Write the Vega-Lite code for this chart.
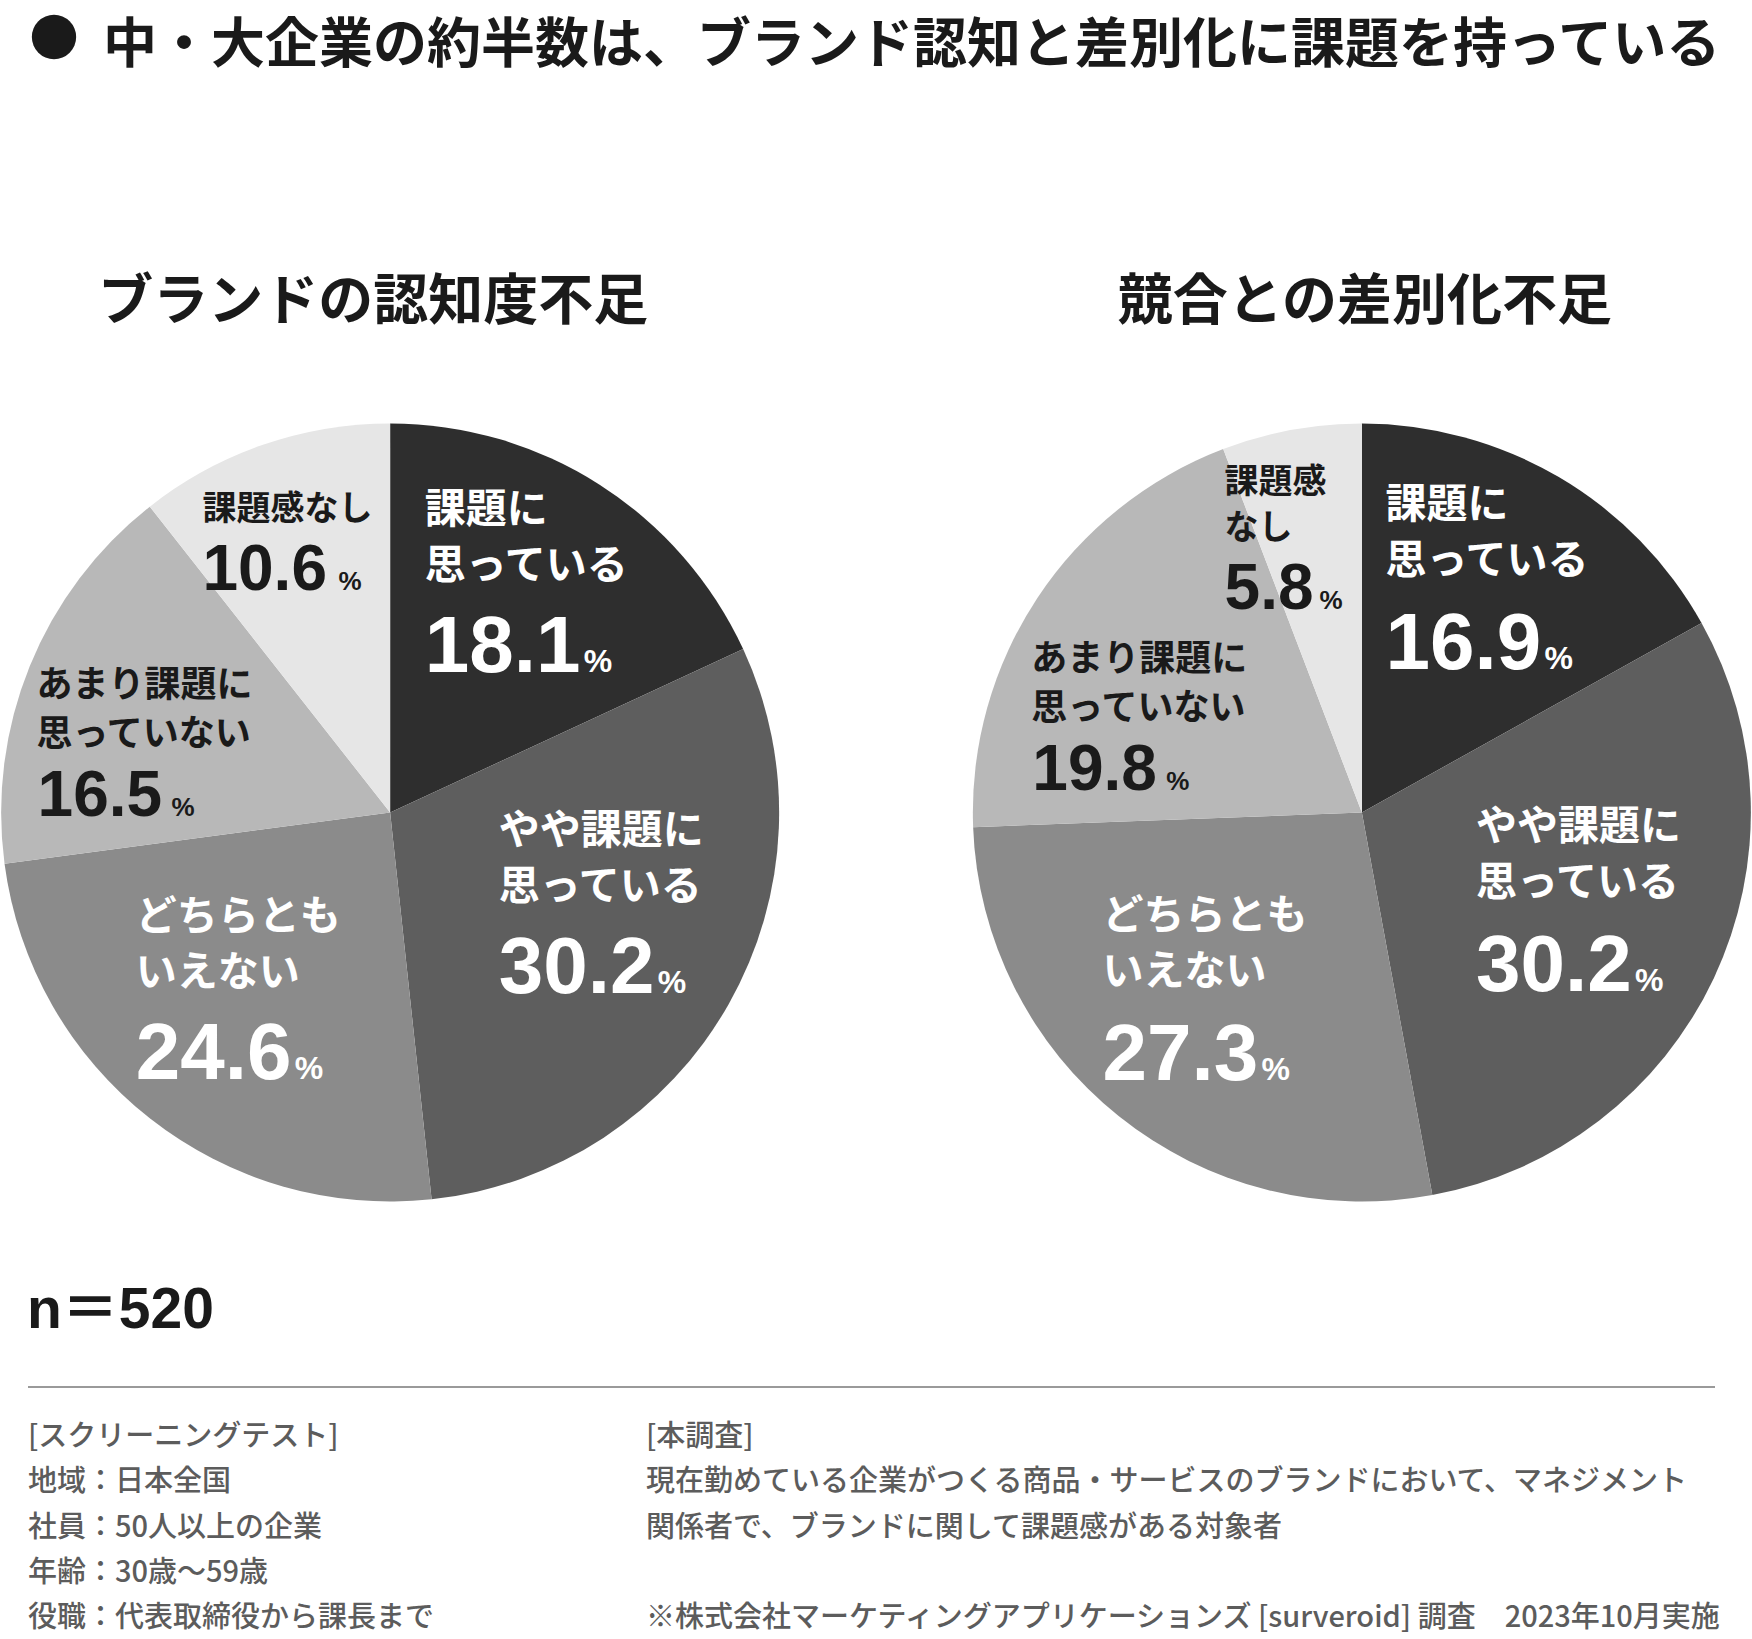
{
  "$schema": "https://vega.github.io/schema/vega-lite/v6.json",
  "autosize": "none",
  "width": 1752,
  "height": 1625,
  "padding": {"left": 0, "top": 0, "right": 0, "bottom": 14},
  "background": "white",
  "config": {"view": {"stroke": null}, "font": "Noto Sans CJK JP"},
  "datasets": {
    "pie": [
      {"chart": "ブランドの認知度不足", "k": 1, "cat": "課題に思っている", "l1": "課題に", "l2": "思っている", "v": 18.1},
      {"chart": "ブランドの認知度不足", "k": 2, "cat": "やや課題に思っている", "l1": "やや課題に", "l2": "思っている", "v": 30.2},
      {"chart": "ブランドの認知度不足", "k": 3, "cat": "どちらともいえない", "l1": "どちらとも", "l2": "いえない", "v": 24.6},
      {"chart": "ブランドの認知度不足", "k": 4, "cat": "あまり課題に思っていない", "l1": "あまり課題に", "l2": "思っていない", "v": 16.5},
      {"chart": "ブランドの認知度不足", "k": 5, "cat": "課題感なし", "l1": "", "l2": "課題感なし", "v": 10.6},
      {"chart": "競合との差別化不足", "k": 1, "cat": "課題に思っている", "l1": "課題に", "l2": "思っている", "v": 16.9},
      {"chart": "競合との差別化不足", "k": 2, "cat": "やや課題に思っている", "l1": "やや課題に", "l2": "思っている", "v": 30.2},
      {"chart": "競合との差別化不足", "k": 3, "cat": "どちらともいえない", "l1": "どちらとも", "l2": "いえない", "v": 27.3},
      {"chart": "競合との差別化不足", "k": 4, "cat": "あまり課題に思っていない", "l1": "あまり課題に", "l2": "思っていない", "v": 19.8},
      {"chart": "競合との差別化不足", "k": 5, "cat": "課題感なし", "l1": "課題感", "l2": "なし", "v": 5.8}
    ],
    "notes": [
      {"part": "bullet", "col": "B", "line": "T", "t": "●"},
      {"part": "title", "col": "T", "line": "T", "t": "中・大企業の約半数は、ブランド認知と差別化に課題を持っている"},
      {"part": "n", "col": "L", "line": "N", "t": "n＝520"},
      {"part": "rule", "col": "L", "col2": "E", "line": "R", "t": ""},
      {"part": "note", "col": "L", "line": "0", "t": "[スクリーニングテスト]"},
      {"part": "note", "col": "L", "line": "1", "t": "地域：日本全国"},
      {"part": "note", "col": "L", "line": "2", "t": "社員：50人以上の企業"},
      {"part": "note", "col": "L", "line": "3", "t": "年齢：30歳〜59歳"},
      {"part": "note", "col": "L", "line": "4", "t": "役職：代表取締役から課長まで"},
      {"part": "note", "col": "R", "line": "0", "t": "[本調査]"},
      {"part": "note", "col": "R", "line": "1", "t": "現在勤めている企業がつくる商品・サービスのブランドにおいて、マネジメント"},
      {"part": "note", "col": "R", "line": "2", "t": "関係者で、ブランドに関して課題感がある対象者"},
      {"part": "note", "col": "R", "line": "4", "t": "※株式会社マーケティングアプリケーションズ [surveroid] 調査　2023年10月実施"}
    ]
  },
  "layer": [
    {
      "data": {"name": "pie"},
      "layer": [
        {
          "transform": [{"filter": "datum.chart === 'ブランドの認知度不足'"}],
          "layer": [
            {"mark": {"type": "arc", "outerRadius": 389, "stroke": null},
             "encoding": {
               "x": {"field": "chart", "type": "nominal", "axis": null, "scale": {"type": "point", "domain": ["ブランドの認知度不足", "競合との差別化不足"], "padding": 0.4015}},
               "theta": {"field": "v", "type": "quantitative", "stack": true},
               "order": {"field": "k", "type": "quantitative"},
               "color": {"field": "cat", "type": "nominal", "legend": null, "scale": {"domain": ["課題に思っている", "やや課題に思っている", "どちらともいえない", "あまり課題に思っていない", "課題感なし"], "range": ["#2e2e2e", "#5e5e5e", "#8b8b8b", "#b8b8b8", "#e6e6e6"]}}
             }},
            {"transform": [{"filter": "datum.k === 1"}],
             "mark": {"type": "text", "align": "center", "baseline": "alphabetic", "dx": -17, "dy": -494, "fontSize": 55, "fontWeight": "bold", "color": "#1a1a1a", "font": "Noto Sans CJK JP"},
             "encoding": {"x": {"field": "chart", "type": "nominal", "axis": null}, "text": {"field": "chart", "type": "nominal"}}},
            {"mark": {"type": "text", "radius": 250, "align": "left", "baseline": "alphabetic", "dx": -100, "dy": -79, "fontSize": 41, "fontWeight": "bold", "color": "#ffffff", "font": "Noto Sans CJK JP"},
             "encoding": {"x": {"field": "chart", "type": "nominal", "axis": null}, "theta": {"field": "v", "type": "quantitative", "stack": true}, "order": {"field": "k", "type": "quantitative"}, "detail": {"field": "k", "type": "nominal"},
               "text": {"condition": {"test": "datum.k === 1 || datum.k === 3", "field": "l1", "type": "nominal"}, "value": ""}}},
            {"mark": {"type": "text", "radius": 250, "align": "left", "baseline": "alphabetic", "dx": -100, "dy": -23, "fontSize": 41, "fontWeight": "bold", "color": "#ffffff", "font": "Noto Sans CJK JP"},
             "encoding": {"x": {"field": "chart", "type": "nominal", "axis": null}, "theta": {"field": "v", "type": "quantitative", "stack": true}, "order": {"field": "k", "type": "quantitative"}, "detail": {"field": "k", "type": "nominal"},
               "text": {"condition": {"test": "datum.k === 1 || datum.k === 3", "field": "l2", "type": "nominal"}, "value": ""}}},
            {"mark": {"type": "text", "radius": 250, "align": "left", "baseline": "alphabetic", "dx": -100, "dy": 70, "fontSize": 80, "fontWeight": "bold", "color": "#ffffff", "font": "Liberation Sans"},
             "encoding": {"x": {"field": "chart", "type": "nominal", "axis": null}, "theta": {"field": "v", "type": "quantitative", "stack": true}, "order": {"field": "k", "type": "quantitative"}, "detail": {"field": "k", "type": "nominal"},
               "text": {"condition": {"test": "datum.k === 1 || datum.k === 3", "field": "v", "type": "quantitative", "format": ".1f"}, "value": ""}}},
            {"mark": {"type": "text", "radius": 250, "align": "left", "baseline": "alphabetic", "dx": 59, "dy": 70, "fontSize": 32, "fontWeight": "bold", "color": "#ffffff", "font": "Liberation Sans"},
             "encoding": {"x": {"field": "chart", "type": "nominal", "axis": null}, "theta": {"field": "v", "type": "quantitative", "stack": true}, "order": {"field": "k", "type": "quantitative"}, "detail": {"field": "k", "type": "nominal"},
               "text": {"condition": {"test": "datum.k === 1 || datum.k === 3", "value": "%"}, "value": ""}}},
            {"mark": {"type": "text", "radius": 250, "align": "left", "baseline": "alphabetic", "dx": -109, "dy": -92, "fontSize": 41, "fontWeight": "bold", "color": "#ffffff", "font": "Noto Sans CJK JP"},
             "encoding": {"x": {"field": "chart", "type": "nominal", "axis": null}, "theta": {"field": "v", "type": "quantitative", "stack": true}, "order": {"field": "k", "type": "quantitative"}, "detail": {"field": "k", "type": "nominal"},
               "text": {"condition": {"test": "datum.k === 2", "field": "l1", "type": "nominal"}, "value": ""}}},
            {"mark": {"type": "text", "radius": 250, "align": "left", "baseline": "alphabetic", "dx": -109, "dy": -36, "fontSize": 41, "fontWeight": "bold", "color": "#ffffff", "font": "Noto Sans CJK JP"},
             "encoding": {"x": {"field": "chart", "type": "nominal", "axis": null}, "theta": {"field": "v", "type": "quantitative", "stack": true}, "order": {"field": "k", "type": "quantitative"}, "detail": {"field": "k", "type": "nominal"},
               "text": {"condition": {"test": "datum.k === 2", "field": "l2", "type": "nominal"}, "value": ""}}},
            {"mark": {"type": "text", "radius": 250, "align": "left", "baseline": "alphabetic", "dx": -109, "dy": 57, "fontSize": 80, "fontWeight": "bold", "color": "#ffffff", "font": "Liberation Sans"},
             "encoding": {"x": {"field": "chart", "type": "nominal", "axis": null}, "theta": {"field": "v", "type": "quantitative", "stack": true}, "order": {"field": "k", "type": "quantitative"}, "detail": {"field": "k", "type": "nominal"},
               "text": {"condition": {"test": "datum.k === 2", "field": "v", "type": "quantitative", "format": ".1f"}, "value": ""}}},
            {"mark": {"type": "text", "radius": 250, "align": "left", "baseline": "alphabetic", "dx": 50, "dy": 57, "fontSize": 32, "fontWeight": "bold", "color": "#ffffff", "font": "Liberation Sans"},
             "encoding": {"x": {"field": "chart", "type": "nominal", "axis": null}, "theta": {"field": "v", "type": "quantitative", "stack": true}, "order": {"field": "k", "type": "quantitative"}, "detail": {"field": "k", "type": "nominal"},
               "text": {"condition": {"test": "datum.k === 2", "value": "%"}, "value": ""}}},
            {"mark": {"type": "text", "radius": 250, "align": "left", "baseline": "alphabetic", "dx": -122, "dy": -21, "fontSize": 36, "fontWeight": "bold", "color": "#1a1a1a", "font": "Noto Sans CJK JP"},
             "encoding": {"x": {"field": "chart", "type": "nominal", "axis": null}, "theta": {"field": "v", "type": "quantitative", "stack": true}, "order": {"field": "k", "type": "quantitative"}, "detail": {"field": "k", "type": "nominal"},
               "text": {"condition": {"test": "datum.k === 4", "field": "l1", "type": "nominal"}, "value": ""}}},
            {"mark": {"type": "text", "radius": 250, "align": "left", "baseline": "alphabetic", "dx": -122, "dy": 28, "fontSize": 36, "fontWeight": "bold", "color": "#1a1a1a", "font": "Noto Sans CJK JP"},
             "encoding": {"x": {"field": "chart", "type": "nominal", "axis": null}, "theta": {"field": "v", "type": "quantitative", "stack": true}, "order": {"field": "k", "type": "quantitative"}, "detail": {"field": "k", "type": "nominal"},
               "text": {"condition": {"test": "datum.k === 4", "field": "l2", "type": "nominal"}, "value": ""}}},
            {"mark": {"type": "text", "radius": 250, "align": "left", "baseline": "alphabetic", "dx": -121, "dy": 98, "fontSize": 64, "fontWeight": "bold", "color": "#1a1a1a", "font": "Liberation Sans"},
             "encoding": {"x": {"field": "chart", "type": "nominal", "axis": null}, "theta": {"field": "v", "type": "quantitative", "stack": true}, "order": {"field": "k", "type": "quantitative"}, "detail": {"field": "k", "type": "nominal"},
               "text": {"condition": {"test": "datum.k === 4", "field": "v", "type": "quantitative", "format": ".1f"}, "value": ""}}},
            {"mark": {"type": "text", "radius": 250, "align": "left", "baseline": "alphabetic", "dx": 13, "dy": 98, "fontSize": 26, "fontWeight": "bold", "color": "#1a1a1a", "font": "Liberation Sans"},
             "encoding": {"x": {"field": "chart", "type": "nominal", "axis": null}, "theta": {"field": "v", "type": "quantitative", "stack": true}, "order": {"field": "k", "type": "quantitative"}, "detail": {"field": "k", "type": "nominal"},
               "text": {"condition": {"test": "datum.k === 4", "value": "%"}, "value": ""}}},
            {"mark": {"type": "text", "radius": 250, "align": "left", "baseline": "alphabetic", "dx": -106, "dy": -102, "fontSize": 34, "fontWeight": "bold", "color": "#1a1a1a", "font": "Noto Sans CJK JP"},
             "encoding": {"x": {"field": "chart", "type": "nominal", "axis": null}, "theta": {"field": "v", "type": "quantitative", "stack": true}, "order": {"field": "k", "type": "quantitative"}, "detail": {"field": "k", "type": "nominal"},
               "text": {"condition": {"test": "datum.k === 5", "field": "l1", "type": "nominal"}, "value": ""}}},
            {"mark": {"type": "text", "radius": 250, "align": "left", "baseline": "alphabetic", "dx": -106, "dy": -56, "fontSize": 34, "fontWeight": "bold", "color": "#1a1a1a", "font": "Noto Sans CJK JP"},
             "encoding": {"x": {"field": "chart", "type": "nominal", "axis": null}, "theta": {"field": "v", "type": "quantitative", "stack": true}, "order": {"field": "k", "type": "quantitative"}, "detail": {"field": "k", "type": "nominal"},
               "text": {"condition": {"test": "datum.k === 5", "field": "l2", "type": "nominal"}, "value": ""}}},
            {"mark": {"type": "text", "radius": 250, "align": "left", "baseline": "alphabetic", "dx": -106, "dy": 14, "fontSize": 64, "fontWeight": "bold", "color": "#1a1a1a", "font": "Liberation Sans"},
             "encoding": {"x": {"field": "chart", "type": "nominal", "axis": null}, "theta": {"field": "v", "type": "quantitative", "stack": true}, "order": {"field": "k", "type": "quantitative"}, "detail": {"field": "k", "type": "nominal"},
               "text": {"condition": {"test": "datum.k === 5", "field": "v", "type": "quantitative", "format": ".1f"}, "value": ""}}},
            {"mark": {"type": "text", "radius": 250, "align": "left", "baseline": "alphabetic", "dx": 30, "dy": 14, "fontSize": 26, "fontWeight": "bold", "color": "#1a1a1a", "font": "Liberation Sans"},
             "encoding": {"x": {"field": "chart", "type": "nominal", "axis": null}, "theta": {"field": "v", "type": "quantitative", "stack": true}, "order": {"field": "k", "type": "quantitative"}, "detail": {"field": "k", "type": "nominal"},
               "text": {"condition": {"test": "datum.k === 5 && datum.v >= 10", "value": "%"}, "value": ""}}},
            {"mark": {"type": "text", "radius": 250, "align": "left", "baseline": "alphabetic", "dx": -11, "dy": 14, "fontSize": 26, "fontWeight": "bold", "color": "#1a1a1a", "font": "Liberation Sans"},
             "encoding": {"x": {"field": "chart", "type": "nominal", "axis": null}, "theta": {"field": "v", "type": "quantitative", "stack": true}, "order": {"field": "k", "type": "quantitative"}, "detail": {"field": "k", "type": "nominal"},
               "text": {"condition": {"test": "datum.k === 5 && datum.v < 10", "value": "%"}, "value": ""}}}
          ]
        },
        {
          "transform": [{"filter": "datum.chart === '競合との差別化不足'"}],
          "layer": [
            {"mark": {"type": "arc", "outerRadius": 389, "stroke": null},
             "encoding": {
               "x": {"field": "chart", "type": "nominal", "axis": null},
               "theta": {"field": "v", "type": "quantitative", "stack": true},
               "order": {"field": "k", "type": "quantitative"},
               "color": {"field": "cat", "type": "nominal", "legend": null}
             }},
            {"transform": [{"filter": "datum.k === 1"}],
             "mark": {"type": "text", "align": "center", "baseline": "alphabetic", "dx": 3, "dy": -494, "fontSize": 55, "fontWeight": "bold", "color": "#1a1a1a", "font": "Noto Sans CJK JP"},
             "encoding": {"x": {"field": "chart", "type": "nominal", "axis": null}, "text": {"field": "chart", "type": "nominal"}}},
            {"mark": {"type": "text", "radius": 250, "align": "left", "baseline": "alphabetic", "dx": -103, "dy": -79, "fontSize": 41, "fontWeight": "bold", "color": "#ffffff", "font": "Noto Sans CJK JP"},
             "encoding": {"x": {"field": "chart", "type": "nominal", "axis": null}, "theta": {"field": "v", "type": "quantitative", "stack": true}, "order": {"field": "k", "type": "quantitative"}, "detail": {"field": "k", "type": "nominal"},
               "text": {"condition": {"test": "datum.k === 1 || datum.k === 3", "field": "l1", "type": "nominal"}, "value": ""}}},
            {"mark": {"type": "text", "radius": 250, "align": "left", "baseline": "alphabetic", "dx": -103, "dy": -23, "fontSize": 41, "fontWeight": "bold", "color": "#ffffff", "font": "Noto Sans CJK JP"},
             "encoding": {"x": {"field": "chart", "type": "nominal", "axis": null}, "theta": {"field": "v", "type": "quantitative", "stack": true}, "order": {"field": "k", "type": "quantitative"}, "detail": {"field": "k", "type": "nominal"},
               "text": {"condition": {"test": "datum.k === 1 || datum.k === 3", "field": "l2", "type": "nominal"}, "value": ""}}},
            {"mark": {"type": "text", "radius": 250, "align": "left", "baseline": "alphabetic", "dx": -103, "dy": 72, "fontSize": 80, "fontWeight": "bold", "color": "#ffffff", "font": "Liberation Sans"},
             "encoding": {"x": {"field": "chart", "type": "nominal", "axis": null}, "theta": {"field": "v", "type": "quantitative", "stack": true}, "order": {"field": "k", "type": "quantitative"}, "detail": {"field": "k", "type": "nominal"},
               "text": {"condition": {"test": "datum.k === 1 || datum.k === 3", "field": "v", "type": "quantitative", "format": ".1f"}, "value": ""}}},
            {"mark": {"type": "text", "radius": 250, "align": "left", "baseline": "alphabetic", "dx": 56, "dy": 72, "fontSize": 32, "fontWeight": "bold", "color": "#ffffff", "font": "Liberation Sans"},
             "encoding": {"x": {"field": "chart", "type": "nominal", "axis": null}, "theta": {"field": "v", "type": "quantitative", "stack": true}, "order": {"field": "k", "type": "quantitative"}, "detail": {"field": "k", "type": "nominal"},
               "text": {"condition": {"test": "datum.k === 1 || datum.k === 3", "value": "%"}, "value": ""}}},
            {"mark": {"type": "text", "radius": 250, "align": "left", "baseline": "alphabetic", "dx": -112, "dy": -79, "fontSize": 41, "fontWeight": "bold", "color": "#ffffff", "font": "Noto Sans CJK JP"},
             "encoding": {"x": {"field": "chart", "type": "nominal", "axis": null}, "theta": {"field": "v", "type": "quantitative", "stack": true}, "order": {"field": "k", "type": "quantitative"}, "detail": {"field": "k", "type": "nominal"},
               "text": {"condition": {"test": "datum.k === 2", "field": "l1", "type": "nominal"}, "value": ""}}},
            {"mark": {"type": "text", "radius": 250, "align": "left", "baseline": "alphabetic", "dx": -112, "dy": -23, "fontSize": 41, "fontWeight": "bold", "color": "#ffffff", "font": "Noto Sans CJK JP"},
             "encoding": {"x": {"field": "chart", "type": "nominal", "axis": null}, "theta": {"field": "v", "type": "quantitative", "stack": true}, "order": {"field": "k", "type": "quantitative"}, "detail": {"field": "k", "type": "nominal"},
               "text": {"condition": {"test": "datum.k === 2", "field": "l2", "type": "nominal"}, "value": ""}}},
            {"mark": {"type": "text", "radius": 250, "align": "left", "baseline": "alphabetic", "dx": -112, "dy": 72, "fontSize": 80, "fontWeight": "bold", "color": "#ffffff", "font": "Liberation Sans"},
             "encoding": {"x": {"field": "chart", "type": "nominal", "axis": null}, "theta": {"field": "v", "type": "quantitative", "stack": true}, "order": {"field": "k", "type": "quantitative"}, "detail": {"field": "k", "type": "nominal"},
               "text": {"condition": {"test": "datum.k === 2", "field": "v", "type": "quantitative", "format": ".1f"}, "value": ""}}},
            {"mark": {"type": "text", "radius": 250, "align": "left", "baseline": "alphabetic", "dx": 47, "dy": 72, "fontSize": 32, "fontWeight": "bold", "color": "#ffffff", "font": "Liberation Sans"},
             "encoding": {"x": {"field": "chart", "type": "nominal", "axis": null}, "theta": {"field": "v", "type": "quantitative", "stack": true}, "order": {"field": "k", "type": "quantitative"}, "detail": {"field": "k", "type": "nominal"},
               "text": {"condition": {"test": "datum.k === 2", "value": "%"}, "value": ""}}},
            {"mark": {"type": "text", "radius": 250, "align": "left", "baseline": "alphabetic", "dx": -122, "dy": -4, "fontSize": 36, "fontWeight": "bold", "color": "#1a1a1a", "font": "Noto Sans CJK JP"},
             "encoding": {"x": {"field": "chart", "type": "nominal", "axis": null}, "theta": {"field": "v", "type": "quantitative", "stack": true}, "order": {"field": "k", "type": "quantitative"}, "detail": {"field": "k", "type": "nominal"},
               "text": {"condition": {"test": "datum.k === 4", "field": "l1", "type": "nominal"}, "value": ""}}},
            {"mark": {"type": "text", "radius": 250, "align": "left", "baseline": "alphabetic", "dx": -122, "dy": 45, "fontSize": 36, "fontWeight": "bold", "color": "#1a1a1a", "font": "Noto Sans CJK JP"},
             "encoding": {"x": {"field": "chart", "type": "nominal", "axis": null}, "theta": {"field": "v", "type": "quantitative", "stack": true}, "order": {"field": "k", "type": "quantitative"}, "detail": {"field": "k", "type": "nominal"},
               "text": {"condition": {"test": "datum.k === 4", "field": "l2", "type": "nominal"}, "value": ""}}},
            {"mark": {"type": "text", "radius": 250, "align": "left", "baseline": "alphabetic", "dx": -121, "dy": 115, "fontSize": 64, "fontWeight": "bold", "color": "#1a1a1a", "font": "Liberation Sans"},
             "encoding": {"x": {"field": "chart", "type": "nominal", "axis": null}, "theta": {"field": "v", "type": "quantitative", "stack": true}, "order": {"field": "k", "type": "quantitative"}, "detail": {"field": "k", "type": "nominal"},
               "text": {"condition": {"test": "datum.k === 4", "field": "v", "type": "quantitative", "format": ".1f"}, "value": ""}}},
            {"mark": {"type": "text", "radius": 250, "align": "left", "baseline": "alphabetic", "dx": 13, "dy": 115, "fontSize": 26, "fontWeight": "bold", "color": "#1a1a1a", "font": "Liberation Sans"},
             "encoding": {"x": {"field": "chart", "type": "nominal", "axis": null}, "theta": {"field": "v", "type": "quantitative", "stack": true}, "order": {"field": "k", "type": "quantitative"}, "detail": {"field": "k", "type": "nominal"},
               "text": {"condition": {"test": "datum.k === 4", "value": "%"}, "value": ""}}},
            {"mark": {"type": "text", "radius": 250, "align": "left", "baseline": "alphabetic", "dx": -92, "dy": -74, "fontSize": 34, "fontWeight": "bold", "color": "#1a1a1a", "font": "Noto Sans CJK JP"},
             "encoding": {"x": {"field": "chart", "type": "nominal", "axis": null}, "theta": {"field": "v", "type": "quantitative", "stack": true}, "order": {"field": "k", "type": "quantitative"}, "detail": {"field": "k", "type": "nominal"},
               "text": {"condition": {"test": "datum.k === 5", "field": "l1", "type": "nominal"}, "value": ""}}},
            {"mark": {"type": "text", "radius": 250, "align": "left", "baseline": "alphabetic", "dx": -92, "dy": -28, "fontSize": 34, "fontWeight": "bold", "color": "#1a1a1a", "font": "Noto Sans CJK JP"},
             "encoding": {"x": {"field": "chart", "type": "nominal", "axis": null}, "theta": {"field": "v", "type": "quantitative", "stack": true}, "order": {"field": "k", "type": "quantitative"}, "detail": {"field": "k", "type": "nominal"},
               "text": {"condition": {"test": "datum.k === 5", "field": "l2", "type": "nominal"}, "value": ""}}},
            {"mark": {"type": "text", "radius": 250, "align": "left", "baseline": "alphabetic", "dx": -92, "dy": 42, "fontSize": 64, "fontWeight": "bold", "color": "#1a1a1a", "font": "Liberation Sans"},
             "encoding": {"x": {"field": "chart", "type": "nominal", "axis": null}, "theta": {"field": "v", "type": "quantitative", "stack": true}, "order": {"field": "k", "type": "quantitative"}, "detail": {"field": "k", "type": "nominal"},
               "text": {"condition": {"test": "datum.k === 5", "field": "v", "type": "quantitative", "format": ".1f"}, "value": ""}}},
            {"mark": {"type": "text", "radius": 250, "align": "left", "baseline": "alphabetic", "dx": 44, "dy": 42, "fontSize": 26, "fontWeight": "bold", "color": "#1a1a1a", "font": "Liberation Sans"},
             "encoding": {"x": {"field": "chart", "type": "nominal", "axis": null}, "theta": {"field": "v", "type": "quantitative", "stack": true}, "order": {"field": "k", "type": "quantitative"}, "detail": {"field": "k", "type": "nominal"},
               "text": {"condition": {"test": "datum.k === 5 && datum.v >= 10", "value": "%"}, "value": ""}}},
            {"mark": {"type": "text", "radius": 250, "align": "left", "baseline": "alphabetic", "dx": 3, "dy": 42, "fontSize": 26, "fontWeight": "bold", "color": "#1a1a1a", "font": "Liberation Sans"},
             "encoding": {"x": {"field": "chart", "type": "nominal", "axis": null}, "theta": {"field": "v", "type": "quantitative", "stack": true}, "order": {"field": "k", "type": "quantitative"}, "detail": {"field": "k", "type": "nominal"},
               "text": {"condition": {"test": "datum.k === 5 && datum.v < 10", "value": "%"}, "value": ""}}}
          ]
        }
      ]
    },
    {
      "data": {"name": "notes"},
      "layer": [
        {"transform": [{"filter": "datum.part === 'bullet'"}],
         "mark": {"type": "point", "shape": "circle", "filled": true, "size": 1963, "opacity": 1, "color": "#1a1a1a", "strokeWidth": 0},
         "encoding": {
           "x": {"field": "col", "type": "nominal", "axis": null, "scale": {"type": "point", "domain": ["B"], "range": [54, 54]}},
           "y": {"field": "line", "type": "nominal", "axis": null, "scale": {"type": "point", "domain": ["T"], "range": [37, 37]}}
         }},
        {"transform": [{"filter": "datum.part === 'title'"}],
         "mark": {"type": "text", "align": "left", "baseline": "alphabetic", "fontSize": 54, "fontWeight": "bold", "color": "#1a1a1a", "font": "Noto Sans CJK JP"},
         "encoding": {
           "x": {"field": "col", "type": "nominal", "axis": null, "scale": {"type": "point", "domain": ["T"], "range": [103, 103]}},
           "y": {"field": "line", "type": "nominal", "axis": null, "scale": {"type": "point", "domain": ["T"], "range": [63, 63]}},
           "text": {"field": "t", "type": "nominal"}
         }},
        {"transform": [{"filter": "datum.part === 'n'"}],
         "mark": {"type": "text", "align": "left", "baseline": "alphabetic", "fontSize": 57, "fontWeight": "bold", "color": "#1a1a1a", "font": "Liberation Sans, Noto Sans CJK JP"},
         "encoding": {
           "x": {"field": "col", "type": "nominal", "axis": null, "scale": {"type": "point", "domain": ["L"], "range": [27, 27]}},
           "y": {"field": "line", "type": "nominal", "axis": null, "scale": {"type": "point", "domain": ["N"], "range": [1328, 1328]}},
           "text": {"field": "t", "type": "nominal"}
         }},
        {"transform": [{"filter": "datum.part === 'rule'"}],
         "mark": {"type": "rule", "color": "#9a9a9a", "strokeWidth": 2},
         "encoding": {
           "x": {"field": "col", "type": "nominal", "axis": null, "scale": {"type": "point", "domain": ["L", "E"], "range": [28, 1715], "padding": 0}},
           "x2": {"field": "col2"},
           "y": {"field": "line", "type": "nominal", "axis": null, "scale": {"type": "point", "domain": ["R"], "range": [1387, 1387]}}
         }},
        {"transform": [{"filter": "datum.part === 'note'"}],
         "mark": {"type": "text", "align": "left", "baseline": "alphabetic", "fontSize": 29, "fontWeight": 500, "color": "#5c5c5c", "font": "Noto Sans CJK JP"},
         "encoding": {
           "x": {"field": "col", "type": "nominal", "axis": null, "scale": {"type": "point", "domain": ["L", "R"], "range": [28, 646], "padding": 0}},
           "y": {"field": "line", "type": "nominal", "axis": null, "scale": {"type": "point", "domain": ["0", "1", "2", "3", "4"], "range": [1446, 1627], "padding": 0}},
           "text": {"field": "t", "type": "nominal"}
         }}
      ],
      "resolve": {"scale": {"x": "independent", "y": "independent"}}
    }
  ],
  "resolve": {"scale": {"x": "independent", "y": "independent"}}
}
